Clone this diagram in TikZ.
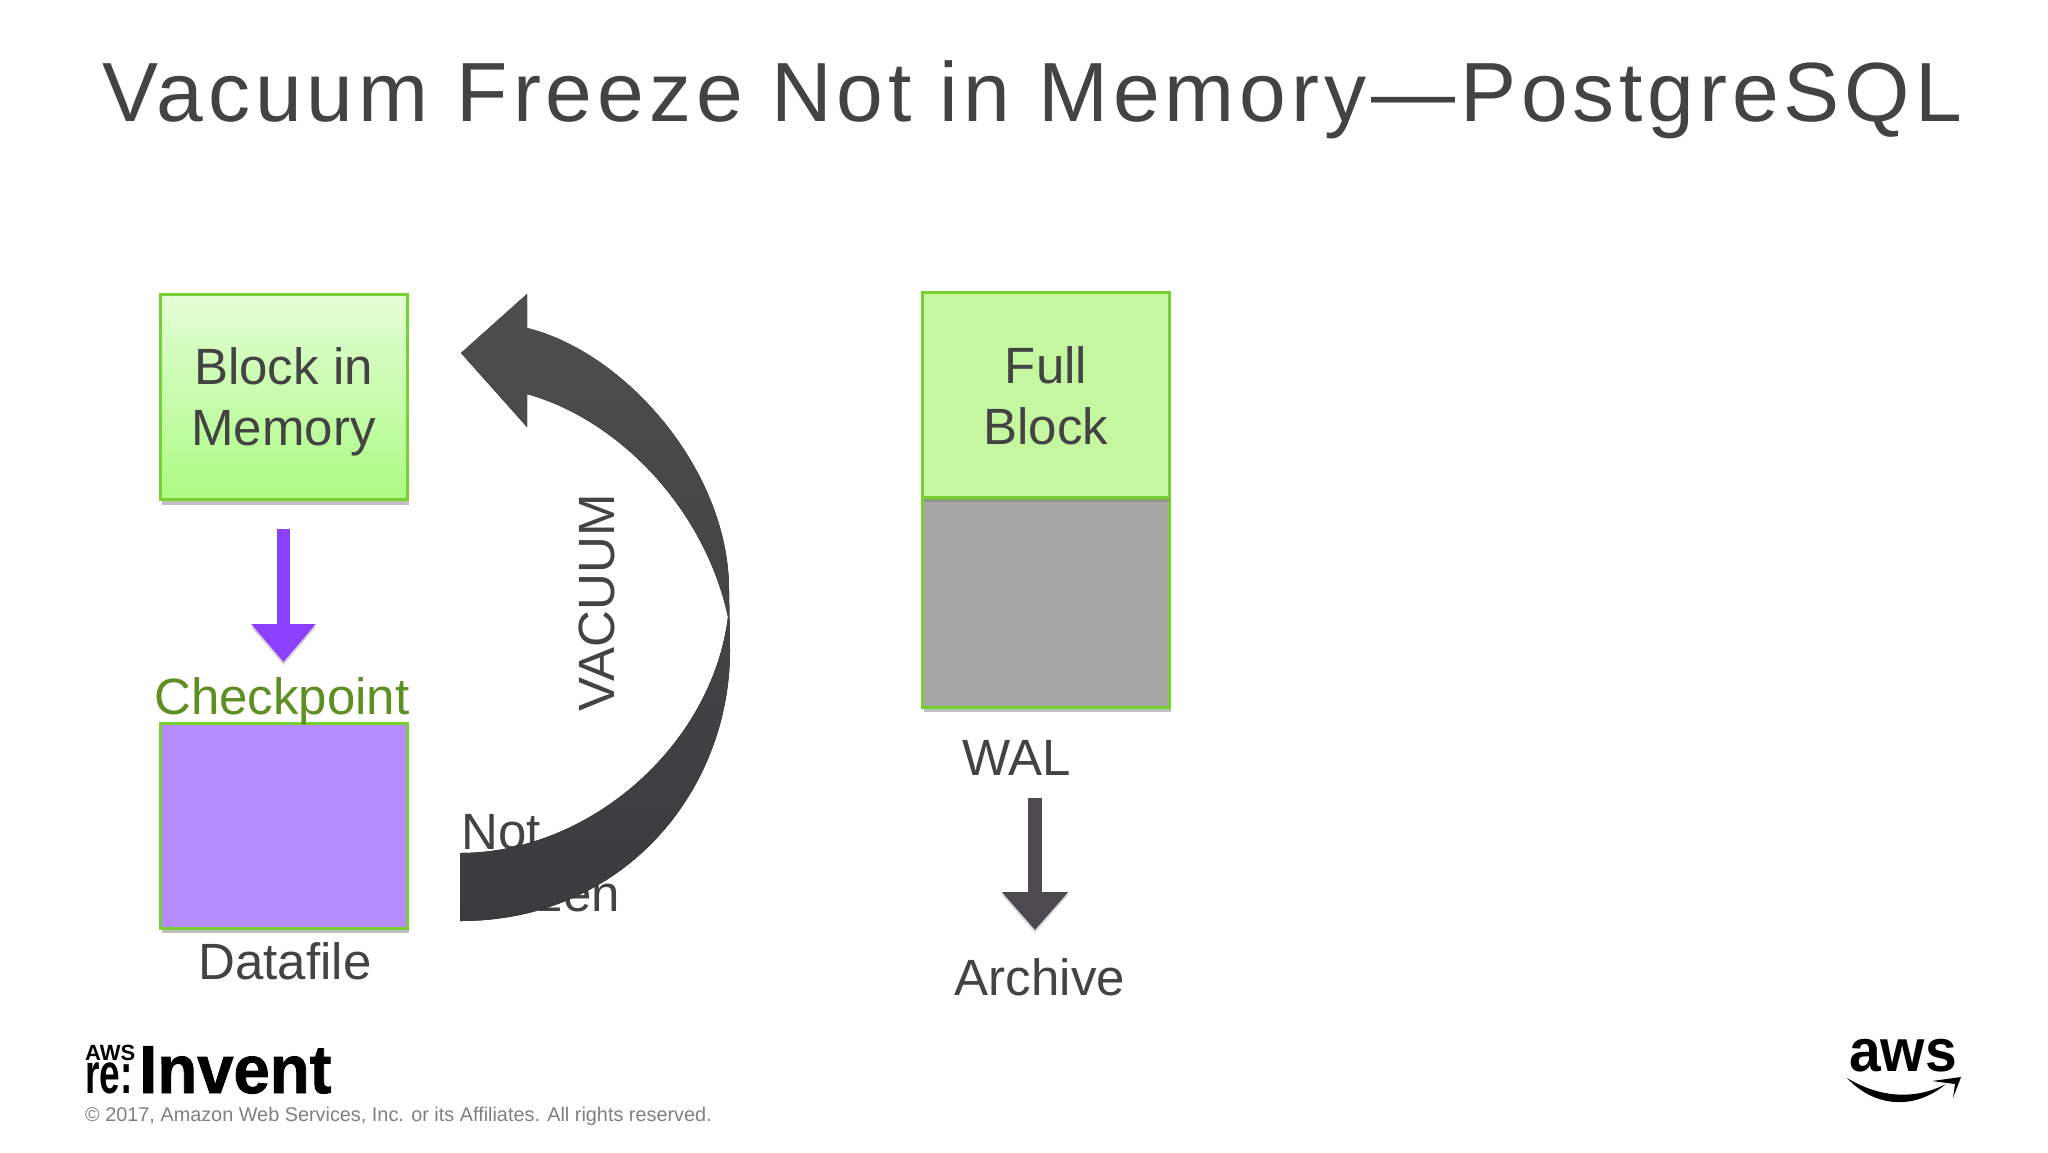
\documentclass[tikz,border=0pt]{standalone}
\usepackage{fontspec}
\setmainfont{Liberation Sans}
\newfontfamily\titlefont[LetterSpace=5.85]{Liberation Sans}
\newfontfamily\inventfont[FakeBold=1.2]{Liberation Sans Bold}
\usetikzlibrary{arrows.meta,shadows}
\newcommand{\slidefont}{\fontsize{51}{61}\selectfont}
\definecolor{inkgrey}{HTML}{434343}
\definecolor{edgegreen}{HTML}{76D032}
\definecolor{arrowpurple}{HTML}{8C3FFF}
\definecolor{arrowdark}{HTML}{4C4A4F}
\definecolor{datapurple}{HTML}{B78CFF}
\definecolor{checkgreen}{HTML}{5E8F22}
\definecolor{arrowtop}{HTML}{4E4E4E}
\definecolor{arrowbot}{HTML}{3B3A3D}
\definecolor{walgrey}{HTML}{A6A6A4}
\definecolor{fullgreen}{HTML}{C5F6A0}
\definecolor{memtop}{HTML}{E3FDD5}
\definecolor{membot}{HTML}{ACFB84}
\tikzset{
  blockbox/.style={draw=edgegreen,line width=3pt,minimum width=247pt,minimum height=205pt,inner sep=0pt,
    align=center,text=inkgrey,font=\slidefont,drop shadow={shadow xshift=1.5pt,shadow yshift=-5pt,fill=black!50,opacity=.5}},
  biglabel/.style={text=inkgrey,font=\slidefont,inner sep=0pt,anchor=base},
  purplearrow/.style={draw=arrowpurple,line width=13pt,-{Triangle[length=38pt,width=62pt]}},
  darkarrow/.style={draw=arrowdark,line width=14pt,-{Triangle[length=38pt,width=64pt]}}
}
\begin{document}
\begin{tikzpicture}[x=1pt,y=-1pt]
  \useasboundingbox[fill=white] (0,0) rectangle (2048,1152);

  \node[anchor=base west,inner sep=0pt,text=inkgrey] (title) at (102,121)
    {\titlefont\fontsize{84}{90}\selectfont Vacuum Freeze Not in Memory—PostgreSQL};

  % left column
  \node[blockbox,top color=memtop,bottom color=membot] (memory) at (283.5,397) {\rule{0pt}{46pt}Block in\\Memory};
  \node[blockbox,fill=datapurple] (datafile) at (283.5,825.5) {};
  \node[biglabel,text=checkgreen] (checkpoint) at (282,714) {Checkpoint};
  \node[biglabel] (datalabel) at (285,979) {Datafile};

  \coordinate (ckptfrom) at (283.5,529);
  \coordinate (ckptto) at (283.5,662);
  \draw[purplearrow,draw=black,opacity=.18,transform canvas={yshift=-3pt}] (ckptfrom) -- (ckptto);
  \draw[purplearrow] (ckptfrom) -- (ckptto);

  % curved arrow, sits on top of the label
  \node[text=inkgrey,font=\slidefont,inner sep=0pt,anchor=north west,align=left] (notfrozen) at (461,814) {Not\\[1pt]Frozen};
  \node[biglabel,rotate=90] (vacuum) at (614,603) {VACUUM};
  \fill[top color=arrowtop,bottom color=arrowbot]
    (461,353) -- (527,294) -- (527,328)
    .. controls (625,352) and (729,470) .. (729,590)
    -- (730,650)
    .. controls (730,790) and (625,921) .. (460,921)
    -- (460,853)
    .. controls (590,853) and (712,745) .. (728,617)
    .. controls (705,510) and (620,420) .. (527,394)
    -- (527,427) -- cycle;

  % right column
  \node[blockbox,fill=walgrey,minimum height=209pt] (walbody) at (1046,602.5) {};
  \node[blockbox,fill=fullgreen] (fullblock) at (1046,394.5) {\rule{0pt}{39pt}Full\\Block};
  \node[biglabel] (wal) at (1017,775) {WAL};
  \node[biglabel] (archive) at (1040,995) {Archive};
  \coordinate (archfrom) at (1035,798);
  \coordinate (archto) at (1035,930);
  \draw[darkarrow,draw=black,opacity=.15,transform canvas={yshift=-3pt}] (archfrom) -- (archto);
  \draw[darkarrow] (archfrom) -- (archto);

  % footer
  \node[anchor=base west,inner sep=0pt,font=\bfseries\fontsize{22}{22}\selectfont] (awssmall) at (85,1060) {AWS};
  \node[anchor=base west,inner sep=0pt,xscale=.65,font=\bfseries\fontsize{57}{57}\selectfont] (resmall) at (85,1093) {re:};
  \node[anchor=base west,inner sep=0pt,xscale=.96,font=\inventfont\fontsize{68}{68}\selectfont] (invent) at (139,1093) {Invent};
  \node[anchor=base west,inner sep=0pt,text=black!50,font=\fontsize{19.85}{20}\selectfont] (copyright) at (85,1121)
    {© 2017, Amazon Web Services, Inc. or its Affiliates. All rights reserved.};
  \node[anchor=base west,inner sep=0pt,xscale=.95,font=\bfseries\fontsize{60}{60}\selectfont] (awslogo) at (1849,1071) {aws};
  \fill (1847,1078) .. controls (1880,1098) and (1915,1100) .. (1946,1084)
    .. controls (1915,1110) and (1875,1108) .. (1847,1078);
  \fill (1932,1081) -- (1961,1077) -- (1953,1098) -- (1955,1084) -- cycle;
\end{tikzpicture}
\end{document}
